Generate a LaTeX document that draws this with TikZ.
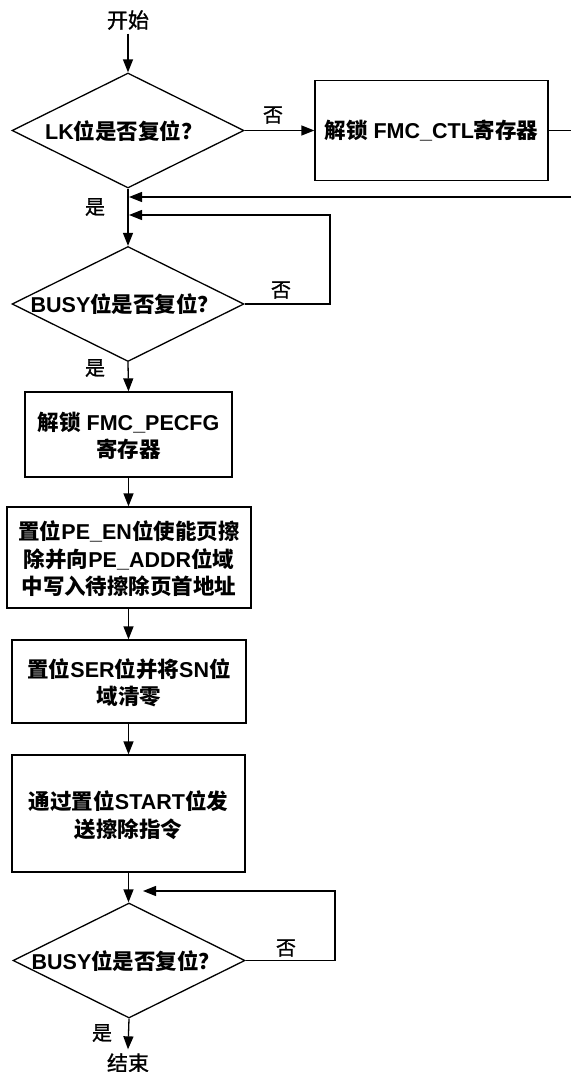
\documentclass[tikz,border=0pt]{standalone}
\usepackage{fontspec}
\setmainfont{Liberation Sans}
\newfontfamily\zhfont{Noto Sans CJK SC}
\newfontfamily\zhmed[FakeBold=1.2]{Noto Sans CJK SC}
\usetikzlibrary{shapes.geometric,arrows.meta}
\newcommand\zhs[1]{{\zhfont #1}}
\begin{document}
\begin{tikzpicture}[x=1pt,y=-1pt,line width=1.3pt,
  >={Triangle[length=13pt,width=10pt]},
  box/.style={draw,rectangle,inner sep=0pt},
  dec/.style={draw,diamond,inner sep=0pt,minimum width=232pt,minimum height=115pt},
  txt/.style={font=\fontsize{21.5}{27.5}\selectfont\bfseries,align=center,inner sep=0pt},
  lbl/.style={font=\fontsize{20}{24}\selectfont\zhmed,inner sep=0pt},
  term/.style={font=\fontsize{21}{25}\selectfont\zhmed}]
\useasboundingbox (0,0) rectangle (571,1072);

\node[term] (start) at (128,20) {开始};
\node[dec] (d1) at (128,130.5) {};
\node[txt] (d1t) at (124,131) {LK\zhs{位是否复位？}};
\node[box,minimum width=233pt,minimum height=100pt] (b1) at (431.5,130.5) {};
\node[txt] (b1t) at (431.5,131) {\zhs{解锁} FMC\_CTL\zhs{寄存器}};
\node[dec] (d2) at (128,304) {};
\node[txt] (d2t) at (125,304) {BUSY\zhs{位是否复位？}};
\node[box,minimum width=207pt,minimum height=85pt] (b2) at (128.5,434.5) {};
\node[txt] (b2t) at (128.5,436) {\zhs{解锁} FMC\_PECFG\\\zhs{寄存器}};
\node[box,minimum width=244pt,minimum height=101pt] (b3) at (129,557.5) {};
\node[txt] (b3t) at (129,559) {\zhs{置位}PE\_EN\zhs{位使能页擦}\\\zhs{除并向}PE\_ADDR\zhs{位域}\\\zhs{中写入待擦除页首地址}};
\node[box,minimum width=234pt,minimum height=83pt] (b4) at (129,681.5) {};
\node[txt] (b4t) at (129,683) {\zhs{置位}SER\zhs{位并将}SN\zhs{位}\\\zhs{域清零}};
\node[box,minimum width=233pt,minimum height=117pt] (b5) at (128.5,813.5) {};
\node[txt] (b5t) at (128.5,815) {\zhs{通过置位}START\zhs{位发}\\\zhs{送擦除指令}};
\node[dec] (d3) at (129,960.5) {};
\node[txt] (d3t) at (126,961) {BUSY\zhs{位是否复位？}};
\node[term] (end) at (128,1063) {结束};

\node[lbl] (n1) at (273,115) {否};
\node[lbl] (y1) at (95,207) {是};
\node[lbl] (n2) at (281,290) {否};
\node[lbl] (y2) at (95,368) {是};
\node[lbl] (n3) at (286,948) {否};
\node[lbl] (y3) at (102,1033) {是};

\coordinate (e1) at (571,130.5);
\coordinate (r1) at (571,197);
\coordinate (c2) at (330,215);
\coordinate (c3) at (335,891);
\coordinate (t3) at (143,891);

\draw[->] (start.south) -- (d1.north);
\draw[->] (d1.east) -- (b1.west);
\draw (b1.east) -- (e1);
\draw[->,shorten >=1pt] (r1) -- (r1 -| d1.south);
\draw[->] (d1.south) -- (d2.north);
\draw[->,shorten >=1pt] (d2.east) -| (c2) -- (c2 -| d1.south);
\draw[->] (d2.south) -- (b2.north);
\draw[->] (b2.south) -- (b3.north -| b2.south);
\draw[->] (b3.south -| b2.south) -- (b4.north -| b2.south);
\draw[->] (b4.south -| b2.south) -- (b5.north -| b2.south);
\draw[->] (b5.south -| b2.south) -- (d3.north -| b2.south);
\draw[->] (d3.east) -| (c3) -- (t3);
\draw[->] (d3.south) -- (end.north);
\end{tikzpicture}
\end{document}
